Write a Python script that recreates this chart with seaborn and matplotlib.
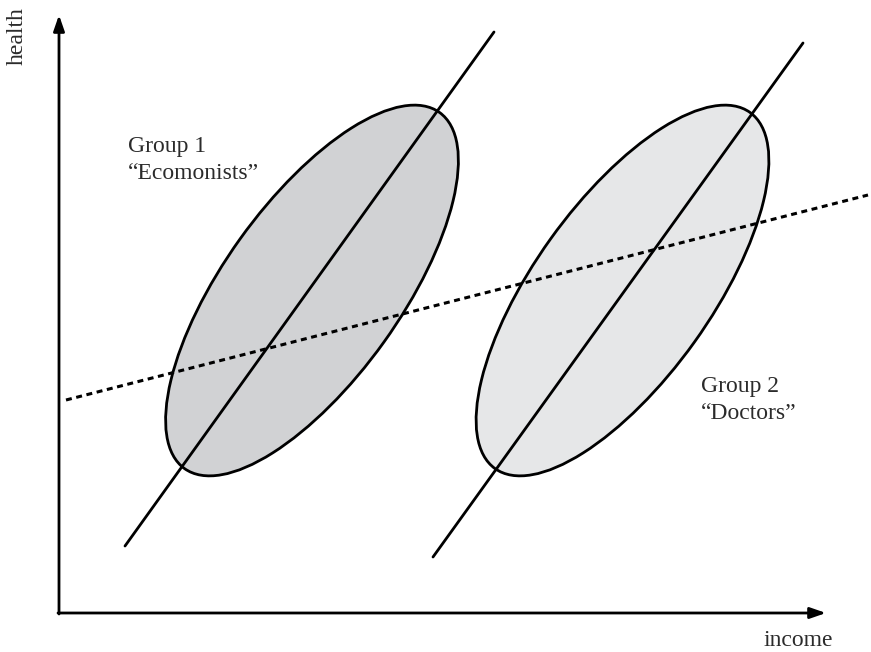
import matplotlib.pyplot as plt
import seaborn as sns
import pandas as pd
from matplotlib.patches import Ellipse

# conceptual data (income, health) in drawing units
groups = ["Group 1", "Group 2"]
group_names = ["\u201cEcomonists\u201d", "\u201cDoctors\u201d"]
center_income = [253, 563.5]
center_health = [322.5, 322.5]
ellipse_len = [438, 438]
ellipse_wid = [177, 177]
ellipse_angle = [54.4, 54.4]
fill_colors = ["#d1d2d4", "#e6e7e8"]

# within-group regression lines (start / end points)
within_income = [[66, 435], [374, 744]]
within_health = [[67, 581], [56, 570]]

# pooled regression line
pooled_income = [7, 809]
pooled_health = [213, 418]

label_income = [69, 642]
label_health = [461, 221]

sns.set_theme(style="white")
plt.rcParams["font.family"] = ["Liberation Serif", "DejaVu Serif"]

fig = plt.figure(figsize=(8.71, 6.52), dpi=100)
ax = fig.add_axes([0, 0, 1, 1])
ax.set_xlim(-59, 812)
ax.set_ylim(-39, 613)
ax.axis("off")

for i in range(len(groups)):
    ax.add_patch(Ellipse((center_income[i], center_health[i]), ellipse_len[i], ellipse_wid[i],
                         angle=ellipse_angle[i], facecolor=fill_colors[i],
                         edgecolor="black", lw=2, zorder=1))

for i in range(len(groups)):
    df = pd.DataFrame({"income": within_income[i], "health": within_health[i]})
    sns.lineplot(data=df, x="income", y="health", ax=ax, color="black", lw=2,
                 estimator=None, sort=False, zorder=3)

pooled = pd.DataFrame({"income": pooled_income, "health": pooled_health})
sns.lineplot(data=pooled, x="income", y="health", ax=ax, color="black", lw=2.2,
             linestyle=(0, (1.95, 1.5)), estimator=None, sort=False, zorder=4)

# axes with arrow heads
arrow = dict(arrowstyle="-|>,head_length=0.95,head_width=0.33", mutation_scale=10,
             lw=2, color="black", shrinkA=0, shrinkB=0)
ax.annotate("", xy=(0, 598), xytext=(0, -1), arrowprops=arrow)
ax.annotate("", xy=(767, 0), xytext=(-1, 0), arrowprops=arrow)

txt = dict(fontsize=17, color="#2b2b2b")
ax.text(-42, 577, "health", rotation=90, ha="center", va="center", **txt)
ax.text(739, -28, "income", ha="center", va="center", **txt)

for i in range(len(groups)):
    ax.text(label_income[i], label_health[i], groups[i], ha="left", va="baseline", **txt)
    ax.text(label_income[i], label_health[i] - 27, group_names[i], ha="left", va="baseline", **txt)

fig.savefig("out.png", dpi=100)
